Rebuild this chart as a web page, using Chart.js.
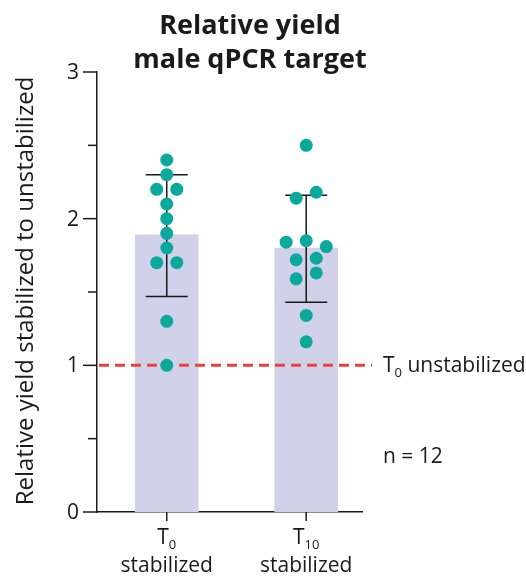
<!DOCTYPE html>
<html>
<head>
<meta charset="utf-8">
<script src="https://cdn.jsdelivr.net/npm/chart.js@4"></script>
<style>
  html, body { margin: 0; padding: 0; background: #fff; }
  #wrap { width: 526px; height: 576px; }
</style>
</head>
<body>
<div id="wrap"><canvas id="chart"></canvas></div>
<script>
// Relative yield - male qPCR target
const titleLines = ['Relative yield', 'male qPCR target'];
const yAxisTitle = 'Relative yield stabilized to unstabilized';

// categories: main letter, subscript, second line
const catMain = ['T', 'T'];
const catSub = ['0', '10'];
const catLine2 = ['stabilized', 'stabilized'];
const catPos = [1, 2];

// bar = mean, whiskers = mean ± SD
const barMeans = [1.89, 1.80];
const sdLow = [1.47, 1.43];
const sdHigh = [2.30, 2.16];

// individual replicates (n = 12) and their horizontal jitter step
const t0Values = [2.40, 2.30, 2.20, 2.20, 2.10, 2.00, 1.90, 1.80, 1.70, 1.70, 1.30, 1.00];
const t0Jitter = [0, 0, -1, 1, 0, 0, 0, 0, -1, 1, 0, 0];
const t10Values = [2.50, 2.18, 2.14, 1.85, 1.84, 1.81, 1.73, 1.72, 1.63, 1.59, 1.34, 1.16];
const t10Jitter = [0, 1, -1, 0, -2, 2, 1, -1, 1, -1, 0, 0];

const yTicks = [0, 0.5, 1, 1.5, 2, 2.5, 3];
const refLevel = 1;
const refLabelMain = 'T';
const refLabelSub = '0';
const refLabelRest = ' unstabilized';
const nLabel = 'n = 12';

const FONT = "'Open Sans', 'Noto Sans', sans-serif";
const JITTER_STEP = 0.072;
const DOT = '#0aa99b';
const BAR = '#d1d1ea';
const INK = '#1a1a1a';
const RED = '#ee4036';

function jittered(pos, vals, jit) {
    return vals.map((v, i) => ({ x: pos + jit[i] * JITTER_STEP, y: v }));
}

// T with subscript, returns width
function drawSubText(ctx, main, sub, x, y, size, align) {
    ctx.font = `${size}px ${FONT}`;
    const wm = ctx.measureText(main).width;
    ctx.font = `${Math.round(size * 0.6)}px ${FONT}`;
    const ws = ctx.measureText(sub).width;
    let x0 = x;
    if (align === 'center') x0 = x - (wm + ws) / 2;
    ctx.textAlign = 'left';
    ctx.textBaseline = 'alphabetic';
    ctx.font = `${size}px ${FONT}`;
    ctx.fillText(main, x0, y);
    ctx.font = `${Math.round(size * 0.6)}px ${FONT}`;
    ctx.fillText(sub, x0 + wm, y + size * 0.22);
    return wm + ws;
}

const decorPlugin = {
    id: 'decor',
    afterDatasetDraw(chart, args) {
        if (args.meta.type !== 'bar') return;
        const ctx = chart.ctx;
        const xs = chart.scales.x, ys = chart.scales.y;
        ctx.save();
        // reference line at unstabilized level
        const yr = ys.getPixelForValue(refLevel);
        ctx.strokeStyle = RED;
        ctx.lineWidth = 3;
        ctx.setLineDash([10, 6]);
        ctx.beginPath();
        ctx.moveTo(chart.chartArea.left + 2, yr);
        ctx.lineTo(chart.chartArea.right + 10, yr);
        ctx.stroke();
        ctx.setLineDash([]);
        // SD whiskers
        ctx.strokeStyle = INK;
        ctx.lineWidth = 1.5;
        catPos.forEach((p, i) => {
            const x = xs.getPixelForValue(p);
            const yl = ys.getPixelForValue(sdLow[i]);
            const yh = ys.getPixelForValue(sdHigh[i]);
            ctx.beginPath();
            ctx.moveTo(x, yl); ctx.lineTo(x, yh);
            ctx.moveTo(x - 21, yl); ctx.lineTo(x + 21, yl);
            ctx.moveTo(x - 21, yh); ctx.lineTo(x + 21, yh);
            ctx.stroke();
        });
        ctx.restore();
    },
    afterDraw(chart) {
        const ctx = chart.ctx;
        const xs = chart.scales.x, ys = chart.scales.y;
        const area = chart.chartArea;
        ctx.save();
        ctx.fillStyle = INK;
        ctx.strokeStyle = INK;
        ctx.lineWidth = 1.5;

        // y ticks
        yTicks.forEach(v => {
            const y = ys.getPixelForValue(v);
            const major = Number.isInteger(v);
            ctx.beginPath();
            ctx.moveTo(area.left - (major ? 14 : 9), y);
            ctx.lineTo(area.left, y);
            ctx.stroke();
            if (major) {
                ctx.font = `21px ${FONT}`;
                ctx.textAlign = 'right';
                ctx.textBaseline = 'middle';
                ctx.fillText(String(v), area.left - 18, y + 1);
            }
        });

        // x ticks + labels
        catPos.forEach((p, i) => {
            const x = xs.getPixelForValue(p);
            ctx.beginPath();
            ctx.moveTo(x, area.bottom);
            ctx.lineTo(x, area.bottom + 9);
            ctx.stroke();
            drawSubText(ctx, catMain[i], catSub[i], x, 544, 21, 'center');
            ctx.font = `21px ${FONT}`;
            ctx.textAlign = 'center';
            ctx.textBaseline = 'alphabetic';
            ctx.fillText(catLine2[i], x, 572);
        });

        // y axis title
        ctx.save();
        ctx.translate(33, 291);
        ctx.rotate(-Math.PI / 2);
        ctx.font = `24px ${FONT}`;
        ctx.textAlign = 'center';
        ctx.textBaseline = 'alphabetic';
        ctx.fillText(yAxisTitle, 0, 0);
        ctx.restore();

        // title
        ctx.font = `bold 27px ${FONT}`;
        ctx.textAlign = 'center';
        ctx.textBaseline = 'alphabetic';
        ctx.fillText(titleLines[0], 250, 34);
        ctx.fillText(titleLines[1], 250, 68);

        // reference label and n
        const yr = ys.getPixelForValue(refLevel);
        const w = drawSubText(ctx, refLabelMain, refLabelSub, 383, yr + 7, 21, 'left');
        ctx.font = `21px ${FONT}`;
        ctx.textAlign = 'left';
        ctx.fillText(refLabelRest, 383 + w, yr + 7);
        ctx.fillText(nLabel, 383, 463);
        ctx.restore();
    }
};

new Chart(document.getElementById('chart'), {
    type: 'bar',
    data: {
        datasets: [
            {
                type: 'scatter',
                data: jittered(catPos[0], t0Values, t0Jitter),
                backgroundColor: DOT,
                borderWidth: 0,
                pointRadius: 6.5,
                order: 1
            },
            {
                type: 'scatter',
                data: jittered(catPos[1], t10Values, t10Jitter),
                backgroundColor: DOT,
                borderWidth: 0,
                pointRadius: 6.5,
                order: 1
            },
            {
                type: 'bar',
                data: catPos.map((p, i) => ({ x: p, y: barMeans[i] })),
                backgroundColor: BAR,
                borderWidth: 0,
                barThickness: 63,
                order: 2
            }
        ]
    },
    options: {
        responsive: true,
        maintainAspectRatio: false,
        animation: false,
        layout: { autoPadding: false, padding: { left: 89, right: 164, top: 72, bottom: 56 } },
        plugins: {
            legend: { display: false },
            tooltip: { enabled: false },
            title: { display: false }
        },
        scales: {
            x: {
                type: 'linear',
                min: 0.5,
                max: 2.4,
                offset: false,
                grid: { display: false, offset: false },
                ticks: { display: false },
                border: { display: true, color: INK, width: 1.5 }
            },
            y: {
                min: 0,
                max: 3,
                grid: { display: false },
                ticks: { display: false },
                border: { display: true, color: INK, width: 1.5 }
            }
        }
    },
    plugins: [decorPlugin]
});
</script>
</body>
</html>
